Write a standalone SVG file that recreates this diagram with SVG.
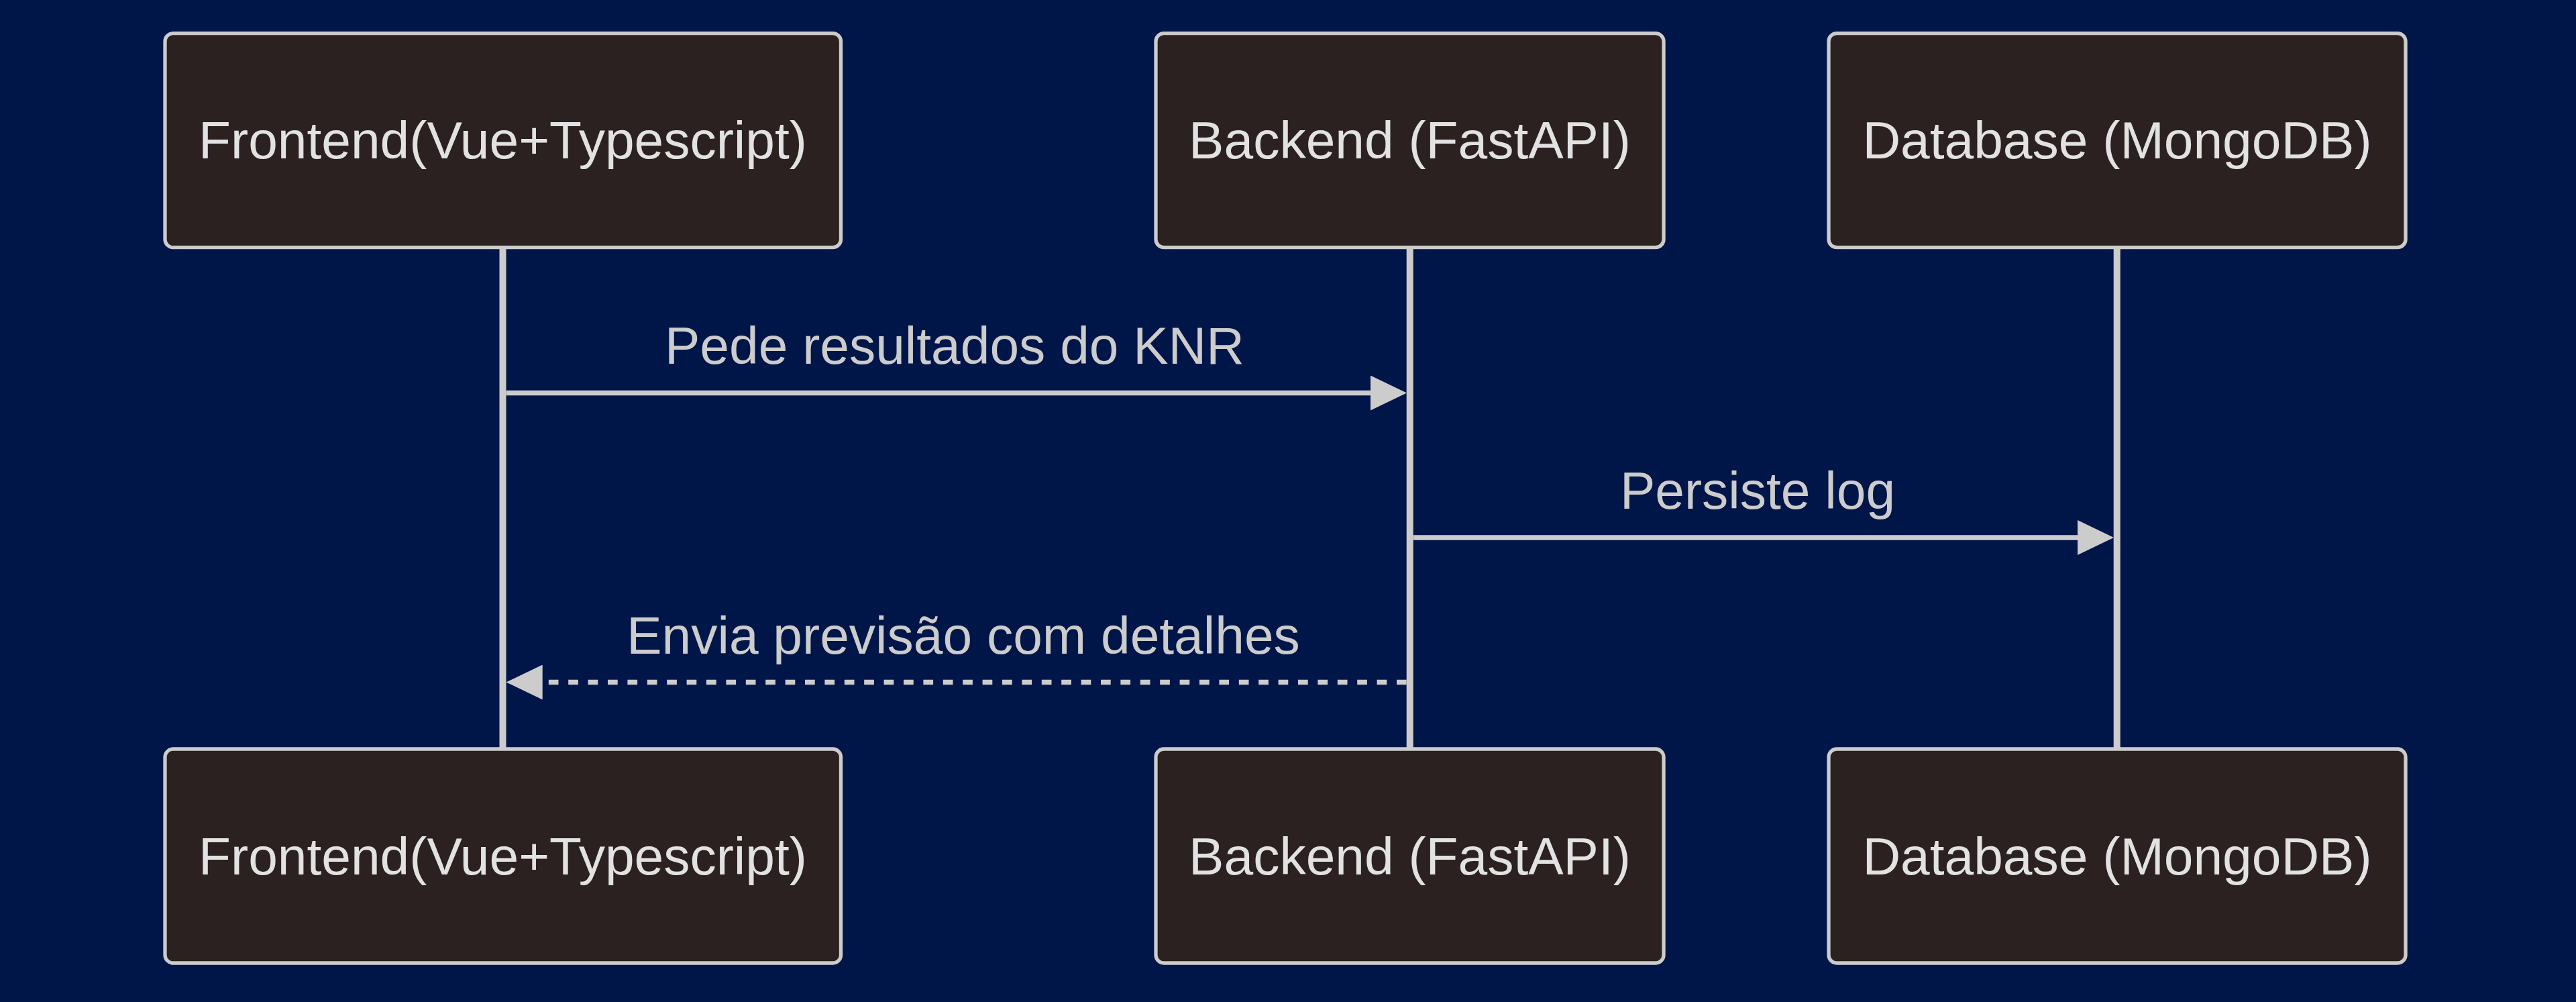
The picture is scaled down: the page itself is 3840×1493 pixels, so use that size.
<svg xmlns="http://www.w3.org/2000/svg" width="3840" height="1493" viewBox="0 0 3840 1493">
  <style>
    .actor { fill: #2a2120; stroke: #cccccc; stroke-width: 5.3; }
    .actor-text { font-family: "Liberation Sans", Arial, sans-serif; font-size: 78.5px; fill: #e2e2e2; text-anchor: middle; }
    .lifeline { stroke: #cccccc; stroke-width: 10; fill: none; }
    .msg { stroke: #cccccc; stroke-width: 7.3; fill: none; }
    .msg-dashed { stroke-dasharray: 14.7 14.7; }
    .msg-text { font-family: "Liberation Sans", Arial, sans-serif; font-size: 78.5px; fill: #cccccc; text-anchor: middle; }
    .head { fill: #cccccc; stroke: none; }
  </style>
  <defs>
    <marker id="arrow" markerUnits="userSpaceOnUse" markerWidth="54" markerHeight="52" refX="4" refY="26" orient="auto" viewBox="0 0 54 52">
      <path class="head" d="M0,0 L54,26 L0,52 z"/>
    </marker>
  </defs>
  <rect x="0" y="0" width="3840" height="1493" fill="#001548"/>

  <g id="lifelines">
    <line class="lifeline" x1="749.5" y1="369" x2="749.5" y2="1116"/>
    <line class="lifeline" x1="2101.7" y1="369" x2="2101.7" y2="1116"/>
    <line class="lifeline" x1="3155.7" y1="369" x2="3155.7" y2="1116"/>
  </g>

  <g id="frontend-top">
    <rect class="actor" x="246" y="49.7" width="1007.5" height="319" rx="12" ry="12"/>
    <text class="actor-text" x="749.5" y="236">Frontend(Vue+Typescript)</text>
  </g>
  <g id="backend-top">
    <rect class="actor" x="1723" y="49.7" width="757" height="319" rx="12" ry="12"/>
    <text class="actor-text" x="2101.5" y="236">Backend (FastAPI)</text>
  </g>
  <g id="database-top">
    <rect class="actor" x="2726" y="49.7" width="860" height="319" rx="12" ry="12"/>
    <text class="actor-text" x="3156" y="236">Database (MongoDB)</text>
  </g>

  <g id="frontend-bottom">
    <rect class="actor" x="246" y="1116" width="1007.5" height="319" rx="12" ry="12"/>
    <text class="actor-text" x="749.5" y="1302.5">Frontend(Vue+Typescript)</text>
  </g>
  <g id="backend-bottom">
    <rect class="actor" x="1723" y="1116" width="757" height="319" rx="12" ry="12"/>
    <text class="actor-text" x="2101.5" y="1302.5">Backend (FastAPI)</text>
  </g>
  <g id="database-bottom">
    <rect class="actor" x="2726" y="1116" width="860" height="319" rx="12" ry="12"/>
    <text class="actor-text" x="3156" y="1302.5">Database (MongoDB)</text>
  </g>

  <g id="connectors">
    <line class="msg" x1="754.5" y1="585.5" x2="2047" y2="585.5" marker-end="url(#arrow)"/>
    <text class="msg-text" x="1423" y="542">Pede resultados do KNR</text>

    <line class="msg" x1="2106.7" y1="801" x2="3101" y2="801" marker-end="url(#arrow)"/>
    <text class="msg-text" x="2620" y="758">Persiste log</text>

    <line class="msg msg-dashed" x1="2096.7" y1="1016.5" x2="804.7" y2="1016.5" marker-end="url(#arrow)"/>
    <text class="msg-text" x="1436" y="974">Envia previsão com detalhes</text>
  </g>
</svg>
